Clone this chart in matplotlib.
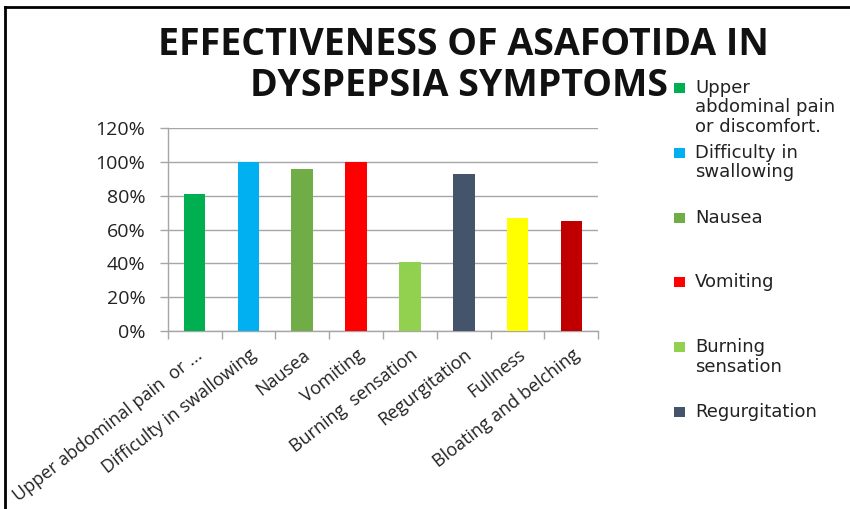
import matplotlib
matplotlib.use("Agg")
import matplotlib.pyplot as plt
from matplotlib.lines import Line2D
from matplotlib.patches import Rectangle
import matplotlib.transforms as mtransforms
import numpy as np

# Data
categories = ["Upper abdominal pain  or ...", "Difficulty in swallowing", "Nausea",
              "Vomiting", "Burning  sensation", "Regurgitation", "Fullness",
              "Bloating and belching"]
legend_labels = ["Upper\nabdominal pain\nor discomfort.", "Difficulty in\nswallowing",
                 "Nausea", "Vomiting", "Burning\nsensation", "Regurgitation",
                 "Fullness", "Bloating and\nbelching"]
effectiveness = [81, 100, 96, 100, 41, 93, 67, 65]
bar_colors = ["#00B050", "#00B0F0", "#70AD47", "#FF0000", "#92D050", "#44546A",
              "#FFFF00", "#C00000"]
y_ticks = [0, 20, 40, 60, 80, 100, 120]
y_tick_labels = ["0%", "20%", "40%", "60%", "80%", "100%", "120%"]
title_lines = ["EFFECTIVENESS OF ASAFOTIDA IN", "DYSPEPSIA SYMPTOMS"]

W, H = 850, 509
fig = plt.figure(figsize=(W / 100, H / 100), dpi=100)
fig.patch.set_facecolor("white")

# plot area in pixel coordinates
left, right, top, bottom = 167.7, 598.3, 128.3, 330.7
ax = fig.add_axes([left / W, 1 - bottom / H, (right - left) / W, (bottom - top) / H])

x = np.arange(len(categories))
ax.bar(x, effectiveness, width=0.4, color=bar_colors, zorder=3)

grid_c = "#A6A6A6"
ax.set_xlim(-0.5, len(categories) - 0.5)
ax.set_ylim(0, 120)
ax.set_yticks(y_ticks)
ax.set_yticklabels(y_tick_labels, fontfamily="Open Sans", fontsize=14, color="#222222")
ax.yaxis.grid(True, color=grid_c, linewidth=1, zorder=0)
ax.tick_params(axis="y", length=6, width=1, color=grid_c, pad=10)

ax.set_xticks(x)
ax.set_xticks(np.arange(-0.5, len(categories)), minor=True)
ax.tick_params(axis="x", which="major", length=0, pad=16)
ax.tick_params(axis="x", which="minor", length=6, width=1, color=grid_c)
offset = mtransforms.ScaledTranslation(6 / 100, 0, fig.dpi_scale_trans)
ax.set_xticklabels(categories, rotation=38, ha="right", va="center",
                   rotation_mode="anchor", fontfamily="Open Sans", fontsize=13,
                   color="#222222")
for lbl in ax.get_xticklabels():
    lbl.set_transform(lbl.get_transform() + offset)

for side in ("top", "right"):
    ax.spines[side].set_visible(False)
for side in ("left", "bottom"):
    ax.spines[side].set_color(grid_c)
    ax.spines[side].set_linewidth(1)

# title, one text per line
for line, (cx, base) in zip(title_lines, [(463, 55), (459, 96)]):
    fig.text(cx / W, 1 - base / H, line, ha="center", va="baseline",
             fontfamily="Open Sans", fontweight="bold", fontsize=27, color="#111111")

# legend (only the entries that fit on the canvas)
n_visible = 6
for i in range(n_visible):
    yc = 88 + 64.8 * i
    fig.patches.append(Rectangle((674 / W, 1 - (yc + 5) / H), 11 / W, 10 / H,
                                 transform=fig.transFigure, facecolor=bar_colors[i],
                                 edgecolor="none"))
    fig.text(695 / W, 1 - (yc - 9) / H, legend_labels[i], ha="left", va="top",
             fontfamily="DejaVu Sans", fontsize=13, color="#222222", linespacing=1.1)

# outer frame lines
fig.add_artist(Line2D([5 / W, 1], [1 - 7 / H, 1 - 7 / H], transform=fig.transFigure,
                      color="black", linewidth=2))
fig.add_artist(Line2D([5 / W, 5 / W], [0, 1 - 7 / H], transform=fig.transFigure,
                      color="black", linewidth=2))

fig.savefig("out.png", dpi=100)
